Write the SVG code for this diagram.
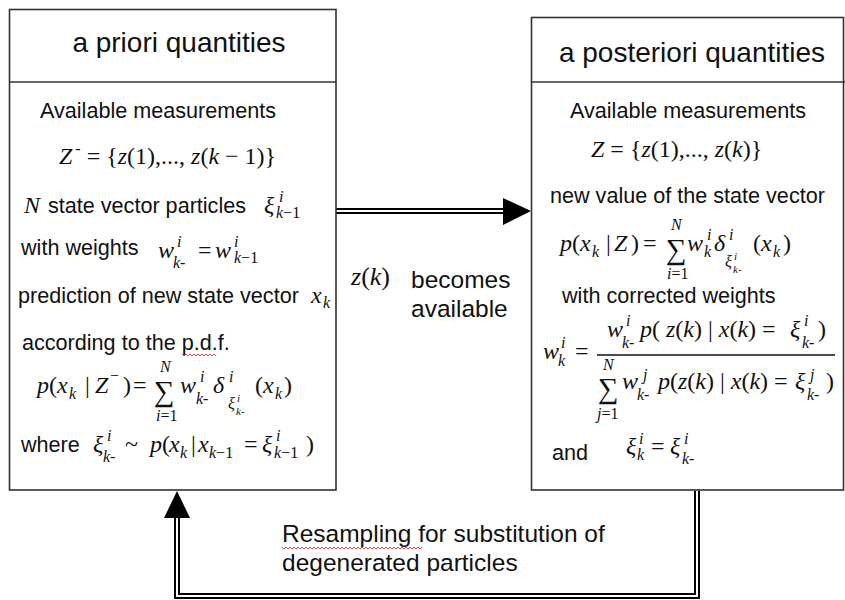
<svg xmlns="http://www.w3.org/2000/svg" width="845" height="600" viewBox="0 0 845 600">
<style>
.box{fill:#fff;stroke:#333;stroke-width:1.6}
.div{stroke:#333;stroke-width:1.6}
.ttl{font-family:"Liberation Sans",Arial,sans-serif;font-size:28px;fill:#111;text-anchor:middle}
.t{font-family:"Liberation Sans",Arial,sans-serif;font-size:21.6px;fill:#111}
.tb{font-family:"Liberation Sans",Arial,sans-serif;font-size:24.5px;fill:#111}
.m{font-family:"Liberation Serif","Times New Roman",serif;font-size:24px;fill:#111}
.i{font-style:italic}
.s{font-size:16px}
.ss{font-size:11px}
.sg{font-size:29px}
.dbl-o{fill:none;stroke:#000;stroke-width:6;stroke-linejoin:miter}
.dbl-i{fill:none;stroke:#fff;stroke-width:2;stroke-linejoin:miter}
.sq{fill:none;stroke:#e03030;stroke-width:0.9}
</style>

<g id="connectors">
  <line class="dbl-o" x1="336" y1="211" x2="506" y2="211"/>
  <line class="dbl-i" x1="336" y1="211" x2="506" y2="211"/>
  <polygon points="503,198 531,211 503,225" fill="#000"/>
  <path class="dbl-o" d="M697,491 V596 H177 V515"/>
  <path class="dbl-i" d="M697,491 V596 H177 V515"/>
  <polygon points="164,518 177,491 190,518" fill="#000"/>
</g>

<g id="apriori">
  <rect class="box" x="9.5" y="9.5" width="326.5" height="480.5"/>
  <line class="div" x1="9.5" y1="82" x2="336" y2="82"/>
  <text class="ttl" x="179" y="52">a priori quantities</text>
  <text class="t" x="40" y="118">Available measurements</text>
  <text class="m" x="59" y="164"><tspan class="i">Z</tspan><tspan class="s" dx="3" dy="-10">-</tspan><tspan dy="10"> = {</tspan><tspan class="i">z</tspan>(1),..., <tspan class="i">z</tspan>(<tspan class="i">k</tspan> − 1)}</text>

  <text class="m i" x="24" y="213">N</text>
  <text class="t" x="48" y="213">state vector particles</text>
  <text class="m i" x="264" y="213">ξ</text>
  <text class="m i s" x="279" y="202">i</text>
  <text class="m s" x="276" y="218"><tspan class="i">k</tspan>−1</text>

  <text class="t" x="21" y="255">with weights</text>
  <text class="m i" x="158" y="258">w</text>
  <text class="m i s" x="177" y="247">i</text>
  <text class="m s" x="173" y="268"><tspan class="i">k</tspan>-</text>
  <text class="m" x="198" y="258">=</text>
  <text class="m i" x="215" y="258">w</text>
  <text class="m i s" x="234" y="247">i</text>
  <text class="m s" x="234" y="263"><tspan class="i">k</tspan>−1</text>

  <text class="t" x="18" y="303">prediction of new state vector</text>
  <text class="m i" x="311" y="303">x</text>
  <text class="m i s" x="323" y="308">k</text>

  <text class="t" x="22" y="350">according to the p.d.f.</text>
  <path class="sq" d="M182,354 l2,2 l2,-2 l2,2 l2,-2 l2,2 l2,-2 l2,2 l2,-2 l2,2 l2,-2 l2,2 l2,-2 l2,2 l2,-2 l2,2 l2,-2 l2,2"/>

  <text class="m i" x="37" y="393">p</text>
  <text class="m" x="49" y="393">(</text>
  <text class="m i" x="57" y="393">x</text>
  <text class="m i s" x="69" y="399">k</text>
  <text class="m" x="85" y="393">|</text>
  <text class="m i" x="95" y="393">Z</text>
  <text class="m s" x="110" y="381">−</text>
  <text class="m" x="123" y="393">)</text>
  <text class="m" x="133" y="393">=</text>
  <text class="m sg" x="154" y="401">∑</text>
  <text class="m i s" x="160" y="372">N</text>
  <text class="m s" x="156" y="421"><tspan class="i">i</tspan>=1</text>
  <text class="m i" x="180" y="393">w</text>
  <text class="m i s" x="200" y="382">i</text>
  <text class="m s" x="196" y="404"><tspan class="i">k</tspan>-</text>
  <text class="m i" x="213" y="393">δ</text>
  <text class="m i s" x="229" y="382">i</text>
  <text class="m i s" x="228" y="409">ξ</text>
  <text class="m i ss" x="237" y="402">i</text>
  <text class="m ss" x="236" y="415"><tspan class="i">k</tspan>-</text>
  <text class="m" x="255" y="393">(</text>
  <text class="m i" x="263" y="393">x</text>
  <text class="m i s" x="275" y="399">k</text>
  <text class="m" x="284" y="393">)</text>

  <text class="t" x="21" y="452">where</text>
  <text class="m i" x="93" y="452">ξ</text>
  <text class="m i s" x="107" y="441">i</text>
  <text class="m s" x="103" y="462"><tspan class="i">k</tspan>-</text>
  <text class="m" x="125" y="452">~</text>
  <text class="m i" x="150" y="452">p</text>
  <text class="m" x="162" y="452">(</text>
  <text class="m i" x="169" y="452">x</text>
  <text class="m i s" x="180" y="458">k</text>
  <text class="m" x="191" y="452">|</text>
  <text class="m i" x="198" y="452">x</text>
  <text class="m s" x="209" y="458"><tspan class="i">k</tspan>−1</text>
  <text class="m" x="244" y="452">=</text>
  <text class="m i" x="262" y="452">ξ</text>
  <text class="m i s" x="276" y="441">i</text>
  <text class="m s" x="274" y="458"><tspan class="i">k</tspan>−1</text>
  <text class="m" x="306" y="452">)</text>
</g>

<g id="aposteriori">
  <rect class="box" x="531.5" y="17.5" width="312" height="472.5"/>
  <line class="div" x1="531.5" y1="82" x2="845" y2="82"/>
  <text class="ttl" x="692" y="62">a posteriori quantities</text>
  <text class="t" x="570" y="118">Available measurements</text>
  <text class="m" x="591" y="157"><tspan class="i">Z</tspan> = {<tspan class="i">z</tspan>(1),..., <tspan class="i">z</tspan>(<tspan class="i">k</tspan>)}</text>
  <text class="t" x="550" y="203">new value of the state vector</text>

  <text class="m i" x="560" y="251">p</text>
  <text class="m" x="572" y="251">(</text>
  <text class="m i" x="580" y="251">x</text>
  <text class="m i s" x="592" y="257">k</text>
  <text class="m" x="606" y="251">|</text>
  <text class="m i" x="614" y="251">Z</text>
  <text class="m" x="631" y="251">)</text>
  <text class="m" x="643" y="251">=</text>
  <text class="m sg" x="666" y="259">∑</text>
  <text class="m i s" x="671" y="230">N</text>
  <text class="m s" x="667" y="279"><tspan class="i">i</tspan>=1</text>
  <text class="m i" x="687" y="251">w</text>
  <text class="m i s" x="707" y="240">i</text>
  <text class="m i s" x="704" y="257">k</text>
  <text class="m i" x="714" y="251">δ</text>
  <text class="m i s" x="729" y="240">i</text>
  <text class="m i s" x="725" y="267">ξ</text>
  <text class="m i ss" x="734" y="260">i</text>
  <text class="m ss" x="733" y="273"><tspan class="i">k</tspan>-</text>
  <text class="m" x="753" y="251">(</text>
  <text class="m i" x="761" y="251">x</text>
  <text class="m i s" x="773" y="257">k</text>
  <text class="m" x="783" y="251">)</text>

  <text class="t" x="562" y="303">with corrected weights</text>

  <text class="m i" x="543" y="359">w</text>
  <text class="m i s" x="561" y="348">i</text>
  <text class="m i s" x="558" y="366">k</text>
  <text class="m" x="575" y="359">=</text>

  <text class="m i" x="607" y="337">w</text>
  <text class="m i s" x="626" y="326">i</text>
  <text class="m s" x="622" y="348"><tspan class="i">k</tspan>-</text>
  <text class="m" x="640" y="337"><tspan class="i">p</tspan>( <tspan class="i">z</tspan>(<tspan class="i">k</tspan>) | <tspan class="i">x</tspan>(<tspan class="i">k</tspan>) =</text>
  <text class="m i" x="790" y="337">ξ</text>
  <text class="m i s" x="804" y="326">i</text>
  <text class="m s" x="802" y="348"><tspan class="i">k</tspan>-</text>
  <text class="m" x="818" y="337">)</text>
  <line x1="597" y1="355" x2="835" y2="355" stroke="#111" stroke-width="1.3"/>

  <text class="m sg" x="598" y="398">∑</text>
  <text class="m i s" x="603" y="370">N</text>
  <text class="m s" x="597" y="419"><tspan class="i">j</tspan>=1</text>
  <text class="m i" x="622" y="389">w</text>
  <text class="m i s" x="643" y="380">j</text>
  <text class="m s" x="637" y="400"><tspan class="i">k</tspan>-</text>
  <text class="m" x="658" y="389"><tspan class="i">p</tspan>(<tspan class="i">z</tspan>(<tspan class="i">k</tspan>) | <tspan class="i">x</tspan>(<tspan class="i">k</tspan>) =</text>
  <text class="m i" x="795" y="389">ξ</text>
  <text class="m i s" x="810" y="380">j</text>
  <text class="m s" x="807" y="400"><tspan class="i">k</tspan>-</text>
  <text class="m" x="826" y="389">)</text>

  <text class="t" x="552" y="460">and</text>
  <text class="m i" x="626" y="454">ξ</text>
  <text class="m i s" x="639" y="444">i</text>
  <text class="m i s" x="637" y="460">k</text>
  <text class="m" x="651" y="454">=</text>
  <text class="m i" x="670" y="454">ξ</text>
  <text class="m i s" x="684" y="444">i</text>
  <text class="m s" x="682" y="464"><tspan class="i">k</tspan>-</text>
</g>

<g id="zk-label">
  <text class="m" x="351" y="285" style="font-size:26px"><tspan class="i">z</tspan>(<tspan class="i">k</tspan>)</text>
  <text class="tb" x="411" y="288">becomes</text>
  <text class="tb" x="411" y="317">available</text>
</g>

<g id="resampling-label">
  <text class="tb" x="282" y="542">Resampling for substitution of</text>
  <path class="sq" d="M282,547 l2,2 l2,-2 l2,2 l2,-2 l2,2 l2,-2 l2,2 l2,-2 l2,2 l2,-2 l2,2 l2,-2 l2,2 l2,-2 l2,2 l2,-2 l2,2 l2,-2 l2,2 l2,-2 l2,2 l2,-2 l2,2 l2,-2 l2,2 l2,-2 l2,2 l2,-2 l2,2 l2,-2 l2,2 l2,-2 l2,2 l2,-2 l2,2 l2,-2 l2,2 l2,-2 l2,2 l2,-2 l2,2 l2,-2 l2,2 l2,-2 l2,2 l2,-2 l2,2 l2,-2 l2,2 l2,-2 l2,2 l2,-2 l2,2 l2,-2 l2,2 l2,-2 l2,2 l2,-2 l2,2 l2,-2 l2,2 l2,-2 l2,2 l2,-2 l2,2 l2,-2 l2,2 l2,-2 l2,2 l2,-2"/>
  <text class="tb" x="282" y="571">degenerated particles</text>
</g>
</svg>
